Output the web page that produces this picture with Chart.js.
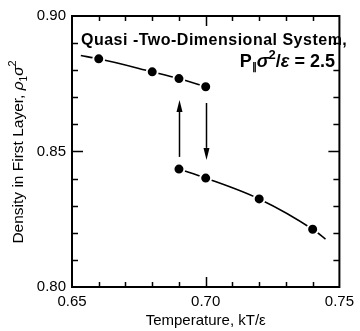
<!DOCTYPE html>
<html>
<head>
<meta charset="utf-8">
<script src="https://cdn.jsdelivr.net/npm/chart.js@4.4.1/dist/chart.umd.min.js"></script>
<style>
  html, body { margin: 0; padding: 0; background: #fff; }
</style>
</head>
<body>
<canvas id="chart" width="360" height="331"></canvas>
<script>
// measured points, upper branch and lower branch
var upperT = [0.66, 0.68, 0.69, 0.70];
var upperRho = [0.8842, 0.8794, 0.8769, 0.8739];
var lowerT = [0.69, 0.70, 0.72, 0.74];
var lowerRho = [0.8435, 0.8402, 0.8325, 0.8213];
// hand-drawn curves run a little past the end points
var upperLineT = [0.6533, 0.66, 0.68, 0.69, 0.70];
var upperLineRho = [0.8854, 0.8842, 0.8794, 0.8769, 0.8739];
var lowerLineT = [0.69, 0.70, 0.72, 0.74, 0.7448];
var lowerLineRho = [0.8435, 0.8402, 0.8325, 0.8213, 0.8177];
// jump arrows between branches
var arrowT = [0.69, 0.70];
var arrowFrom = [0.848, 0.8679];
var arrowTo = [0.869, 0.8469];

var FONT = '"Liberation Sans", Arial, Helvetica, sans-serif';

function pts(xs, ys) {
  return xs.map(function(x, i) { return {x: x, y: ys[i]}; });
}
function isMajor(v) {
  return Math.abs(v * 20 - Math.round(v * 20)) < 1e-6;
}
// draw a run of [text, font, dy] pieces starting at x
function drawParts(ctx, parts, x, y) {
  parts.forEach(function(p) {
    ctx.font = p[1];
    ctx.fillText(p[0], x, y + p[2]);
    x += ctx.measureText(p[0]).width;
  });
}
function partsWidth(ctx, parts) {
  var w = 0;
  parts.forEach(function(p) { ctx.font = p[1]; w += ctx.measureText(p[0]).width; });
  return w;
}

var framePlugin = {
  id: 'frame',
  afterDraw: function(chart) {
    var ctx = chart.ctx, a = chart.chartArea;
    var xs = chart.scales.x, ys = chart.scales.y;
    ctx.save();
    ctx.strokeStyle = '#000';
    ctx.fillStyle = '#000';
    ctx.lineWidth = 2;
    ctx.strokeRect(a.left, a.top, a.right - a.left, a.bottom - a.top);

    // inward ticks on all four sides, every 0.01
    ctx.lineWidth = 1.5;
    ctx.beginPath();
    for (var k = 1; k < 10; k++) {
      var vx = xs.min + k * 0.01;
      var px = Math.round(xs.getPixelForValue(vx)) + 0.5;
      var lx = isMajor(vx) ? 10 : 5;
      ctx.moveTo(px, a.bottom); ctx.lineTo(px, a.bottom - lx);
      ctx.moveTo(px, a.top); ctx.lineTo(px, a.top + lx);
      var vy = ys.min + k * 0.01;
      var py = Math.round(ys.getPixelForValue(vy)) + 0.5;
      var ly = isMajor(vy) ? 11 : 6;
      ctx.moveTo(a.left, py); ctx.lineTo(a.left + ly, py);
      ctx.moveTo(a.right, py); ctx.lineTo(a.right - ly, py);
    }
    ctx.stroke();

    // arrows
    arrowT.forEach(function(t, i) {
      var x = Math.round(xs.getPixelForValue(t)) + 0.5;
      var y0 = ys.getPixelForValue(arrowFrom[i]);
      var y1 = ys.getPixelForValue(arrowTo[i]);
      var dir = y1 < y0 ? -1 : 1;
      var head = 12;
      ctx.beginPath();
      ctx.moveTo(x, y0);
      ctx.lineTo(x, y1 - dir * head);
      ctx.stroke();
      ctx.beginPath();
      ctx.moveTo(x, y1);
      ctx.lineTo(x - 3, y1 - dir * head);
      ctx.lineTo(x + 3, y1 - dir * head);
      ctx.closePath();
      ctx.fill();
    });

    // legend text
    ctx.textBaseline = 'alphabetic';
    ctx.textAlign = 'left';
    ctx.font = 'bold 16px ' + FONT;
    ctx.letterSpacing = '0.5px';
    ctx.fillText('Quasi -Two-Dimensional System,', 81, 45);
    ctx.letterSpacing = '0px';

    var legend2 = [
      ['P', 'bold 18px ' + FONT, 0],
      ['\u2225', 'bold 10px ' + FONT, 3],
      ['\u03c3', 'italic bold 18px ' + FONT, 0],
      ['2', 'bold 13px ' + FONT, -8],
      ['/', 'bold 18px ' + FONT, 0],
      ['\u03b5', 'italic bold 18px ' + FONT, 0],
      [' = 2.5', 'bold 18px ' + FONT, 0]
    ];
    drawParts(ctx, legend2, 335 - partsWidth(ctx, legend2), 67);

    // y axis title, rotated
    var ytitle = [
      ['Density in First Layer, ', '15.5px ' + FONT, 0],
      ['\u03c1', 'italic 15.5px ' + FONT, 0],
      ['1', '10px ' + FONT, 4],
      ['\u03c3', 'italic 15.5px ' + FONT, 0],
      ['2', '11px ' + FONT, -7]
    ];
    ctx.translate(23, 152);
    ctx.rotate(-Math.PI / 2);
    drawParts(ctx, ytitle, -partsWidth(ctx, ytitle) / 2, 0);
    ctx.restore();
  }
};

new Chart(document.getElementById('chart'), {
  type: 'scatter',
  data: {
    datasets: [{
      data: pts(upperT, upperRho),
      pointRadius: 5.5,
      pointBackgroundColor: '#000',
      pointBorderColor: '#fff',
      pointBorderWidth: 2,
      showLine: false,
      order: 0
    }, {
      data: pts(lowerT, lowerRho),
      pointRadius: 5.5,
      pointBackgroundColor: '#000',
      pointBorderColor: '#fff',
      pointBorderWidth: 2,
      showLine: false,
      order: 0
    }, {
      data: pts(upperLineT, upperLineRho),
      showLine: true,
      pointRadius: 0,
      borderColor: '#000',
      borderWidth: 1.6,
      cubicInterpolationMode: 'monotone',
      order: 1
    }, {
      data: pts(lowerLineT, lowerLineRho),
      showLine: true,
      pointRadius: 0,
      borderColor: '#000',
      borderWidth: 1.6,
      cubicInterpolationMode: 'monotone',
      order: 1
    }]
  },
  options: {
    responsive: false,
    devicePixelRatio: 1,
    animation: false,
    layout: { padding: { left: 0, right: 13, top: 16, bottom: 0 } },
    plugins: {
      legend: { display: false },
      tooltip: { enabled: false }
    },
    scales: {
      x: {
        type: 'linear',
        min: 0.65,
        max: 0.75,
        grid: { display: false, drawTicks: false },
        border: { display: false },
        ticks: {
          stepSize: 0.01,
          autoSkip: false,
          maxRotation: 0,
          padding: 6,
          color: '#000',
          font: { family: FONT, size: 15 },
          callback: function(v) { return isMajor(v) ? v.toFixed(2) : ''; }
        },
        title: {
          display: true,
          text: 'Temperature, kT/\u03b5',
          color: '#000',
          font: { family: FONT, size: 15 },
          padding: { top: 0, bottom: 1 }
        },
        afterFit: function(s) { s.height = 44; }
      },
      y: {
        type: 'linear',
        min: 0.80,
        max: 0.90,
        grid: { display: false, drawTicks: false },
        border: { display: false },
        ticks: {
          stepSize: 0.01,
          autoSkip: false,
          padding: 6,
          color: '#000',
          font: { family: FONT, size: 15 },
          callback: function(v) { return isMajor(v) ? v.toFixed(2) : ''; }
        },
        afterFit: function(s) { s.width = 72; }
      }
    }
  },
  plugins: [framePlugin]
});
</script>
</body>
</html>
